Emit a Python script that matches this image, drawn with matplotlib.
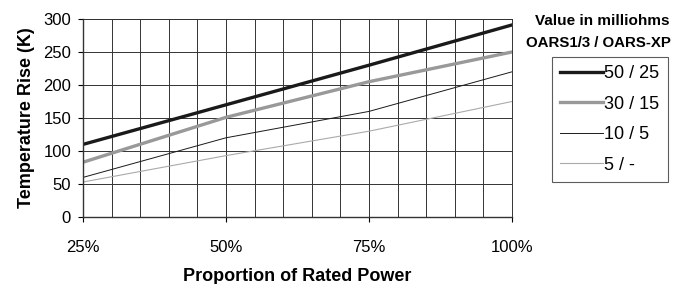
import numpy as np
import matplotlib.pyplot as plt
from matplotlib.ticker import MultipleLocator, FixedLocator

plt.rcParams['font.family'] = ['Liberation Sans', 'DejaVu Sans']

# data
power = [25, 50, 75, 100]
labels = ['50 / 25', '30 / 15', '10 / 5', '5 / -']
rise_50 = [110, 170, 230, 291]
rise_30 = [83, 151, 205, 250]
rise_10 = [60, 120, 160, 220]
rise_5 = [53, 93, 130, 175]
xtick_labels = ['25%', '50%', '75%', '100%']

fig = plt.figure(figsize=(6.76, 2.84), dpi=100)
ax = fig.add_axes([83 / 676, 1 - 217 / 284, 429 / 676, 198 / 284])

ax.plot(power, rise_50, color='#1a1a1a', lw=2.4, label=labels[0])
ax.plot(power, rise_30, color='#999999', lw=2.4, label=labels[1])
ax.plot(power, rise_10, color='#1a1a1a', lw=0.7, label=labels[2])
ax.plot(power, rise_5, color='#aaaaaa', lw=0.8, label=labels[3])

ax.set_xlim(25, 100)
ax.set_ylim(0, 300)
ax.xaxis.set_major_locator(FixedLocator(power))
ax.set_xticklabels(xtick_labels)
ax.xaxis.set_minor_locator(MultipleLocator(5))
ax.yaxis.set_major_locator(MultipleLocator(50))
ax.grid(True, which='both', color='#333333', lw=0.7)
ax.tick_params(which='minor', length=0)
ax.tick_params(which='major', length=3.6, width=0.8, labelsize=12)
ax.tick_params(axis='x', pad=13)
ax.tick_params(axis='y', pad=5)
for s in ax.spines.values():
    s.set_color('#333333')
    s.set_linewidth(0.7)
ax.spines['left'].set_linewidth(1.0)
ax.spines['bottom'].set_linewidth(1.0)

ax.set_xlabel('Proportion of Rated Power', fontsize=13, fontweight='bold', labelpad=9)
ax.set_ylabel('Temperature Rise (K)', fontsize=13, fontweight='bold', labelpad=6)

fig.text(602 / 676, 1 - 21 / 284, 'Value in milliohms', ha='center', va='center',
         fontsize=11, fontweight='bold')
fig.text(598 / 676, 1 - 43 / 284, 'OARS1/3 / OARS-XP', ha='center', va='center',
         fontsize=10.8, fontweight='bold')

leg = fig.legend(loc='upper left', bbox_to_anchor=(552 / 676, 1 - 57 / 284),
                 fontsize=13, frameon=True, fancybox=False, handlelength=2.4,
                 handletextpad=0.05, labelspacing=0.75, borderpad=0.45,
                 borderaxespad=0)
leg.get_frame().set_edgecolor('#333333')
leg.get_frame().set_linewidth(0.8)

fig.savefig('out.png', dpi=100)
